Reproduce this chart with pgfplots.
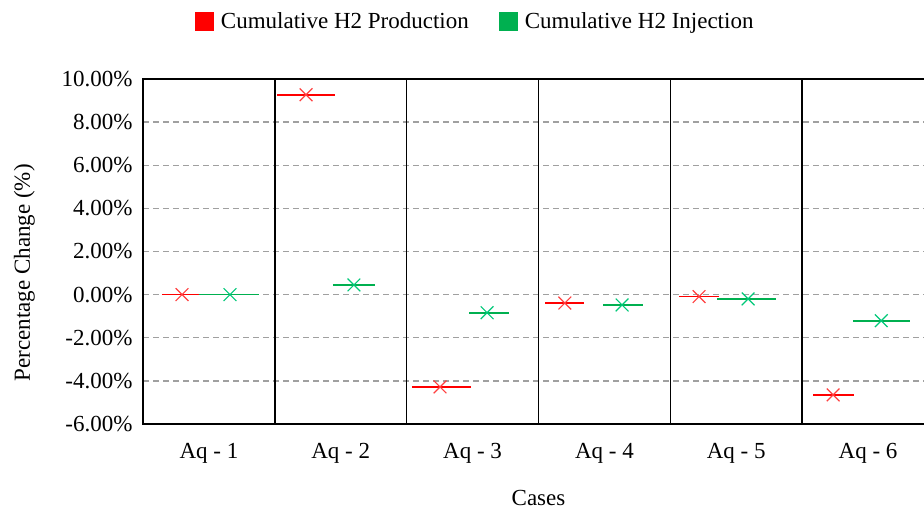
\documentclass[border=0pt]{standalone}
\usepackage{fontspec}
\setmainfont{Liberation Serif}
\usepackage{pgfplots}
\pgfplotsset{compat=1.18}
\definecolor{cred}{HTML}{FF0000}
\definecolor{cgreen}{HTML}{00B050}
\definecolor{cgreenm}{HTML}{00C878}
\definecolor{cgrid}{HTML}{A0A0A0}
\begin{document}
\begin{tikzpicture}
\useasboundingbox (0pt,0pt) rectangle (924pt,513pt);
\clip (0pt,0pt) rectangle (924pt,513pt);
\begin{axis}[
  at={(143pt,89pt)}, anchor=south west,
  scale only axis, width=791pt, height=345pt,
  xmin=0.5, xmax=6.5, ymin=-6, ymax=10,
  axis line style={black, line width=1.4pt},
  ytick={-6,-4,...,10},
  yticklabel={\pgfmathprintnumber[fixed,fixed zerofill,precision=2]{\tick}\%},
  /pgf/number format/assume math mode=true,
  ymajorgrids,
  major grid style={cgrid, line width=1.4pt, dash pattern=on 6pt off 4pt},
  xtick={1,2,3,4,5,6},
  xticklabels={Aq - 1,Aq - 2,Aq - 3,Aq - 4,Aq - 5,Aq - 6},
  major tick length=0pt,
  extra x ticks={1.5,2.5,3.5,4.5,5.5},
  extra x tick labels={},
  extra x tick style={grid=major, major grid style={black, solid, line width=1.5pt}},
  tick label style={font=\fontsize{23}{26}\selectfont},
  yticklabel style={xshift=-7pt},
  xticklabel style={yshift=-16pt},
  xlabel={Cases}, ylabel={Percentage Change (\%)},
  label style={font=\fontsize{23}{26}\selectfont},
  xlabel style={at={(axis description cs:0.5,-0.2145)}, anchor=center},
  ylabel style={at={(axis description cs:-0.150,0.438)}, anchor=center},
  unbounded coords=jump,
  legend style={at={(axis description cs:0.42,1.168)}, anchor=center, draw=none,
    font=\fontsize{23}{26}\selectfont, legend columns=2,
    /tikz/every even column/.append style={column sep=28pt}},
]
\addlegendimage{only marks, mark=square*, mark size=9pt, cred}
\addlegendentry{\hspace{6pt}Cumulative H2 Production}
\addlegendimage{only marks, mark=square*, mark size=9pt, cgreen}
\addlegendentry{\hspace{6pt}Cumulative H2 Injection}
% horizontal segments
\addplot[cred, line width=1.7pt, forget plot] coordinates {
 (0.644,0) (0.925,0) (1,nan)
 (1.517,9.27) (1.957,9.27) (2,nan)
 (2.54,-4.28) (2.989,-4.28) (3,nan)
 (3.55,-0.39) (3.846,-0.39) (4,nan)
 (4.567,-0.09) (4.87,-0.09) (5,nan)
 (5.583,-4.65) (5.894,-4.65)
};
\addplot[cgreen, line width=1.7pt, forget plot] coordinates {
 (0.925,0) (1.38,0) (1.5,nan)
 (1.94,0.45) (2.26,0.45) (2.5,nan)
 (2.973,-0.84) (3.277,-0.84) (3.5,nan)
 (3.99,-0.48) (4.29,-0.48) (4.5,nan)
 (4.855,-0.2) (5.30,-0.2) (5.5,nan)
 (5.887,-1.21) (6.32,-1.21)
};
% markers
\addplot[only marks, mark=x, mark size=9pt, mark options={line width=1.2pt, red!75}, forget plot] coordinates {
 (0.796,0) (1.737,9.27) (2.753,-4.28) (3.70,-0.39) (4.718,-0.09) (5.735,-4.65)
};
\addplot[only marks, mark=x, mark size=9pt, mark options={line width=1.2pt, cgreenm}, forget plot] coordinates {
 (1.16,0) (2.10,0.45) (3.11,-0.84) (4.134,-0.48) (5.09,-0.2) (6.10,-1.21)
};
\end{axis}
\end{tikzpicture}
\end{document}
